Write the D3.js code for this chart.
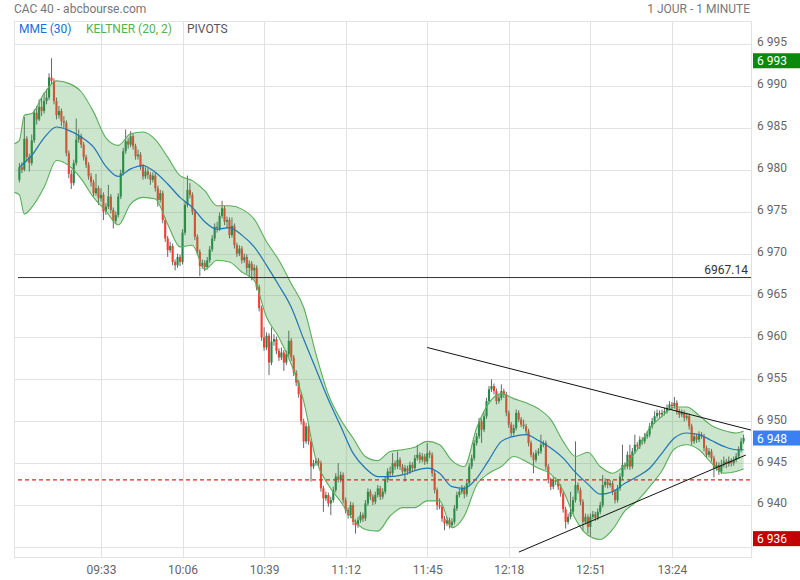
<!DOCTYPE html>
<html><head><meta charset="utf-8">
<script src="https://cdn.jsdelivr.net/npm/d3@7"></script>
<style>body{margin:0;background:#fff}svg{display:block;font-family:Roboto,"Noto Sans",sans-serif}</style>
</head><body><svg id="c" width="800" height="580"></svg>
<script>
const title = "CAC 40 - abcbourse.com";
const period = "1 JOUR - 1 MINUTE";
const legendLabels = ["MME (30)", "KELTNER (20, 2)", "PIVOTS"];
const timeLabels = ["09:33","10:06","10:39","11:12","11:45","12:18","12:51","13:24"];
const priceTicks = [6935,6940,6945,6950,6955,6960,6965,6970,6975,6980,6985,6990,6995];

const closes = [
6980.3,6980.0,6983.7,6981.5,6980.8,6983.5,6986.8,6986.0,6987.5,6987.0,
6988.2,6988.6,6991.0,6990.6,6988.2,6986.5,6987.0,6985.8,6985.6,6982.0,
6979.5,6978.4,6980.8,6983.6,6984.0,6983.0,6981.5,6980.6,6979.2,6978.5,
6977.2,6977.8,6976.6,6977.0,6975.0,6975.6,6976.8,6975.2,6973.9,6974.6,
6976.8,6979.6,6982.2,6983.4,6983.0,6984.0,6982.8,6981.6,6981.8,6980.4,
6979.2,6979.8,6979.4,6978.8,6979.3,6977.8,6976.4,6977.2,6974.0,6971.8,
6970.4,6970.9,6969.0,6968.6,6969.6,6969.0,6972.5,6975.8,6977.6,6977.0,
6975.0,6972.0,6970.2,6968.5,6968.9,6968.4,6969.2,6970.5,6971.8,6973.2,
6973.0,6974.5,6975.4,6973.8,6974.0,6972.2,6973.3,6971.0,6970.0,6970.6,
6969.2,6969.6,6968.3,6968.8,6968.0,6968.3,6966.0,6963.5,6960.0,6958.8,
6960.2,6957.0,6959.5,6959.8,6958.4,6957.6,6958.2,6957.0,6958.0,6959.6,
6957.6,6955.8,6954.6,6953.2,6950.0,6947.6,6949.4,6947.6,6944.6,6945.0,
6945.3,6945.0,6942.0,6940.8,6941.2,6940.2,6940.6,6941.8,6943.4,6943.0,
6943.6,6940.6,6939.4,6938.8,6940.0,6938.0,6937.6,6938.2,6938.8,6938.4,
6940.2,6941.6,6941.0,6940.4,6941.2,6942.0,6941.0,6941.6,6943.0,6944.0,
6943.8,6945.0,6944.6,6945.4,6944.6,6944.0,6944.4,6944.0,6944.8,6944.4,
6945.6,6946.0,6945.4,6945.8,6945.2,6946.2,6946.0,6943.8,6941.8,6940.0,
6939.8,6938.4,6937.8,6938.2,6937.6,6938.0,6939.6,6941.2,6941.6,6942.0,
6941.3,6942.6,6944.6,6945.6,6947.4,6948.2,6950.0,6949.0,6950.6,6952.4,
6953.8,6954.2,6953.6,6952.4,6952.8,6953.6,6953.2,6951.0,6949.6,6948.6,
6949.2,6951.0,6950.2,6949.6,6949.4,6948.8,6947.4,6946.0,6945.4,6946.2,
6946.4,6947.2,6947.4,6944.6,6943.0,6942.2,6943.0,6942.8,6942.2,6941.4,
6939.5,6938.0,6938.6,6939.2,6940.6,6942.4,6941.8,6940.4,6938.0,6938.6,
6937.4,6938.6,6938.9,6938.5,6939.2,6940.0,6942.4,6942.8,6942.4,6942.6,
6941.6,6940.6,6942.0,6943.4,6944.8,6944.6,6946.0,6944.6,6946.4,6947.2,
6947.0,6947.8,6947.6,6948.2,6948.4,6949.4,6950.0,6950.6,6951.0,6950.8,
6951.0,6951.2,6951.6,6952.0,6951.8,6952.2,6951.2,6950.8,6951.0,6950.4,
6950.6,6949.4,6947.6,6948.2,6947.8,6948.4,6948.2,6946.8,6946.0,6946.4,
6945.6,6944.4,6944.8,6944.0,6944.8,6945.2,6944.9,6945.3,6945.0,6945.4,
6945.8,6946.6,6947.6,6948.0];

const opens = [
6978.8,6980.3,6980.0,6983.7,6981.5,6980.8,6983.5,6986.8,6986.0,6987.5,
6987.0,6988.2,6988.6,6991.0,6990.6,6988.2,6986.5,6987.0,6985.8,6985.6,
6982.0,6979.5,6978.4,6980.8,6983.6,6984.0,6983.0,6981.5,6980.6,6979.2,
6978.5,6977.2,6977.8,6976.6,6977.0,6975.0,6975.6,6976.8,6975.2,6973.9,
6974.6,6976.8,6979.6,6982.2,6983.4,6983.0,6984.0,6982.8,6981.6,6981.8,
6980.4,6979.2,6979.8,6979.4,6978.8,6979.3,6977.8,6976.4,6977.2,6974.0,
6971.8,6970.4,6970.9,6969.0,6968.6,6969.6,6969.0,6972.5,6975.8,6977.6,
6977.0,6975.0,6972.0,6970.2,6968.5,6968.9,6968.4,6969.2,6970.5,6971.8,
6973.2,6973.0,6974.5,6975.4,6973.8,6974.0,6972.2,6973.3,6971.0,6970.0,
6970.6,6969.2,6969.6,6968.3,6968.8,6968.0,6968.3,6966.0,6963.5,6960.0,
6958.8,6960.2,6957.0,6959.5,6959.8,6958.4,6957.6,6958.2,6957.0,6958.0,
6959.6,6957.6,6955.8,6954.6,6953.2,6950.0,6947.6,6949.4,6947.6,6944.6,
6945.0,6945.3,6945.0,6942.0,6940.8,6941.2,6940.2,6940.6,6941.8,6943.4,
6943.0,6943.6,6940.6,6939.4,6938.8,6940.0,6938.0,6937.6,6938.2,6938.8,
6938.4,6940.2,6941.6,6941.0,6940.4,6941.2,6942.0,6941.0,6941.6,6943.0,
6944.0,6943.8,6945.0,6944.6,6945.4,6944.6,6944.0,6944.4,6944.0,6944.8,
6944.4,6945.6,6946.0,6945.4,6945.8,6945.2,6946.2,6946.0,6943.8,6941.8,
6940.0,6939.8,6938.4,6937.8,6938.2,6937.6,6938.0,6939.6,6941.2,6941.6,
6942.0,6941.3,6942.6,6944.6,6945.6,6947.4,6948.2,6950.0,6949.0,6950.6,
6952.4,6953.8,6954.2,6953.6,6952.4,6952.8,6953.6,6953.2,6951.0,6949.6,
6948.6,6949.2,6951.0,6950.2,6949.6,6949.4,6948.8,6947.4,6946.0,6945.4,
6946.2,6946.4,6947.2,6947.4,6944.6,6943.0,6942.2,6943.0,6942.8,6942.2,
6941.4,6939.5,6938.0,6938.6,6939.2,6940.6,6942.4,6941.8,6940.4,6938.0,
6938.6,6937.4,6938.6,6938.9,6938.5,6939.2,6940.0,6942.4,6942.8,6942.4,
6942.6,6941.6,6940.6,6942.0,6943.4,6944.8,6944.6,6946.0,6944.6,6946.4,
6947.2,6947.0,6947.8,6947.6,6948.2,6948.4,6949.4,6950.0,6950.6,6951.0,
6950.8,6951.0,6951.2,6951.6,6952.0,6951.8,6952.2,6951.2,6950.8,6951.0,
6950.4,6950.6,6949.4,6947.6,6948.2,6947.8,6948.4,6948.2,6946.8,6946.0,
6946.4,6945.6,6944.4,6944.8,6944.0,6944.8,6945.2,6944.9,6945.3,6945.0,
6945.4,6945.8,6946.6,6947.6];

const highs = [
6980.8,6980.9,6986.3,6984.0,6981.9,6984.2,6987.2,6987.6,6988.4,6988.6,
6989.2,6989.6,6991.5,6993.3,6990.9,6988.6,6987.6,6987.3,6986.4,6985.9,
6982.3,6980.0,6981.2,6986.1,6984.8,6984.3,6983.3,6981.8,6980.9,6979.6,
6978.8,6979.5,6978.1,6977.8,6977.3,6976.0,6978.2,6977.1,6975.5,6975.0,
6977.2,6980.0,6982.6,6984.8,6983.8,6984.6,6984.3,6983.1,6982.4,6982.1,
6980.7,6980.3,6980.2,6979.7,6979.7,6979.6,6978.1,6977.6,6977.5,6974.3,
6972.1,6971.4,6971.2,6969.3,6970.0,6969.9,6972.9,6976.2,6979.3,6978.4,
6977.3,6975.3,6972.3,6970.5,6969.3,6969.2,6969.6,6970.9,6972.2,6973.6,
6973.8,6974.9,6976.3,6975.7,6974.4,6974.3,6974.3,6973.6,6971.3,6971.0,
6970.9,6970.0,6969.9,6969.2,6969.1,6968.7,6968.6,6966.3,6963.8,6961.2,
6960.6,6960.5,6961.2,6960.4,6960.1,6958.7,6958.8,6958.5,6958.4,6960.8,
6959.9,6957.9,6956.1,6954.9,6953.5,6950.3,6949.8,6949.7,6947.9,6945.4,
6945.6,6945.6,6945.3,6942.3,6941.6,6941.5,6941.0,6942.2,6943.8,6945.0,
6944.0,6943.9,6940.9,6939.7,6940.4,6940.3,6938.3,6938.6,6939.2,6939.1,
6940.6,6942.0,6941.9,6941.3,6941.6,6942.4,6942.3,6942.0,6943.4,6944.4,
6944.6,6946.2,6945.3,6946.4,6945.7,6944.9,6944.8,6944.7,6945.2,6945.1,
6946.0,6947.2,6946.3,6946.2,6946.1,6947.4,6946.5,6946.3,6944.1,6942.1,
6940.8,6940.1,6938.7,6938.6,6938.5,6938.4,6940.0,6941.6,6942.0,6942.4,
6942.3,6943.0,6945.0,6946.0,6947.8,6948.6,6950.4,6950.3,6951.0,6952.8,
6954.2,6955.0,6954.5,6953.9,6953.2,6954.4,6953.9,6953.5,6951.3,6949.9,
6949.6,6951.4,6951.3,6950.5,6950.2,6949.7,6949.1,6947.7,6946.3,6946.6,
6946.8,6948.4,6947.7,6947.7,6944.9,6943.3,6943.4,6943.3,6943.1,6942.5,
6941.7,6939.8,6939.0,6941.6,6941.0,6947.6,6942.7,6942.1,6940.7,6939.0,
6938.9,6939.0,6939.3,6939.2,6939.6,6940.4,6943.6,6943.2,6943.1,6943.0,
6942.9,6941.9,6942.4,6943.8,6947.2,6945.1,6946.4,6947.2,6946.8,6948.4,
6947.5,6948.2,6948.1,6948.6,6948.8,6949.8,6950.4,6951.2,6951.4,6951.3,
6951.4,6951.6,6952.0,6952.4,6952.3,6952.9,6952.5,6951.5,6951.4,6951.3,
6951.0,6950.9,6949.7,6948.6,6948.5,6948.8,6948.7,6948.5,6947.1,6946.8,
6946.7,6945.9,6945.2,6945.1,6945.4,6945.8,6945.5,6945.8,6945.6,6945.8,
6946.2,6947.0,6948.0,6948.4];

const lows = [
6978.5,6979.6,6979.8,6981.0,6979.8,6980.5,6983.2,6985.4,6985.8,6986.4,
6986.7,6987.8,6988.3,6990.2,6987.8,6986.0,6986.1,6985.2,6985.0,6981.6,
6979.0,6977.7,6978.1,6980.5,6983.2,6982.6,6981.1,6980.2,6978.8,6978.0,
6976.8,6976.9,6975.8,6976.2,6974.0,6974.6,6975.3,6974.8,6973.0,6973.5,
6974.3,6976.5,6979.3,6981.9,6982.5,6982.7,6982.4,6981.2,6981.2,6980.0,
6978.8,6978.9,6978.9,6978.2,6978.5,6977.4,6975.6,6976.1,6973.6,6971.4,
6969.6,6970.1,6968.6,6968.0,6968.3,6968.5,6968.7,6972.2,6975.5,6976.6,
6974.6,6971.6,6969.8,6967.3,6968.2,6967.9,6968.1,6968.9,6970.2,6971.5,
6972.5,6972.7,6974.2,6973.4,6973.0,6971.8,6971.9,6970.6,6969.6,6969.7,
6968.8,6968.9,6967.6,6967.2,6966.8,6967.0,6965.6,6963.1,6959.6,6958.4,
6958.5,6955.5,6956.7,6959.0,6958.0,6957.2,6957.3,6956.0,6956.7,6957.7,
6957.2,6955.4,6954.2,6952.8,6949.6,6946.8,6947.3,6947.2,6942.8,6944.3,
6944.7,6944.6,6941.6,6939.2,6940.5,6939.8,6938.8,6940.3,6941.5,6942.7,
6942.7,6940.2,6939.0,6938.4,6938.5,6937.6,6936.6,6937.3,6937.9,6938.0,
6938.1,6939.9,6940.6,6940.0,6940.1,6940.9,6940.6,6940.7,6941.3,6942.7,
6943.4,6943.5,6944.2,6944.3,6944.2,6943.6,6942.8,6943.6,6943.7,6944.0,
6944.1,6945.3,6945.0,6945.1,6944.8,6944.9,6945.6,6943.4,6941.4,6939.4,
6939.5,6938.0,6937.0,6937.5,6937.2,6937.3,6937.7,6939.3,6940.9,6941.3,
6940.8,6941.0,6942.3,6944.3,6945.3,6947.1,6947.9,6947.4,6948.7,6950.3,
6952.1,6953.5,6953.2,6952.0,6952.1,6952.5,6952.8,6950.6,6949.2,6948.2,
6948.3,6948.9,6949.9,6949.3,6949.1,6948.5,6947.0,6945.7,6943.8,6945.1,
6945.9,6946.1,6946.9,6944.2,6942.6,6941.8,6941.9,6942.4,6941.8,6941.0,
6939.1,6937.2,6937.7,6938.3,6938.9,6940.3,6941.4,6940.0,6936.9,6937.7,
6936.6,6936.2,6938.3,6938.1,6938.2,6938.9,6939.7,6942.1,6942.0,6942.1,
6941.2,6940.2,6940.3,6941.7,6943.1,6944.2,6944.3,6944.2,6944.3,6946.1,
6946.6,6946.7,6947.2,6947.3,6947.9,6948.1,6949.1,6949.7,6950.3,6950.4,
6950.5,6950.7,6950.9,6951.3,6951.4,6951.5,6950.8,6950.4,6950.5,6950.0,
6950.1,6949.0,6947.2,6947.3,6947.4,6947.5,6947.9,6946.4,6945.6,6945.7,
6945.2,6943.3,6944.1,6943.6,6943.7,6944.5,6944.4,6944.6,6944.6,6944.7,
6945.1,6945.5,6946.3,6947.3];

// Keltner (20, 2) band, read every 5 minutes
const bandIdx = [-2,0,2,5,10,15,20,25,30,35,40,45,50,55,60,65,70,75,80,85,90,95,100,105,110,115,120,125,130,135,140,145,150,155,160,165,170,175,180,185,190,195,200,205,210,215,220,225,230,235,240,245,250,255,260,265,270,275,280,285,290,293];
const bandUpper = [6983.1,6983.5,6986.5,6986.7,6989.1,6990.6,6990.3,6989.3,6986.9,6983.8,6982.9,6984.3,6984.5,6983.6,6981.5,6979.3,6978.7,6977.5,6975.7,6975.7,6975.3,6974.1,6971.4,6969.2,6966.4,6963.6,6958.0,6953.2,6950.2,6948.0,6945.8,6945.3,6946.4,6946.6,6946.9,6947.6,6947.2,6945.3,6944.6,6949.2,6952.2,6953.3,6952.7,6952.2,6951.5,6950.2,6947.6,6945.8,6946.3,6944.6,6943.8,6944.8,6946.6,6949.2,6950.6,6951.7,6951.7,6950.7,6949.5,6948.9,6948.6,6948.8];
const bandLower = [6977.3,6977.0,6974.7,6975.5,6977.9,6981.1,6980.5,6978.9,6976.7,6975.1,6973.4,6975.9,6976.7,6976.5,6973.5,6970.8,6971.0,6968.1,6969.2,6969.0,6967.8,6966.8,6962.4,6960.0,6956.8,6952.4,6945.4,6942.4,6940.4,6938.3,6937.1,6936.9,6938.7,6939.7,6939.7,6940.5,6940.5,6937.3,6938.7,6942.4,6943.8,6944.6,6945.8,6945.2,6944.4,6943.7,6941.7,6938.3,6936.4,6935.9,6937.1,6939.3,6940.5,6942.2,6944.1,6946.7,6947.2,6946.6,6945.0,6943.8,6944.0,6944.3];

// MME (30), read every 5 minutes
const emaIdx = [0,5,10,15,20,25,30,35,40,45,50,55,60,65,70,75,80,85,90,95,100,105,110,115,120,125,130,135,140,145,150,155,160,165,170,175,180,185,190,195,200,205,210,215,220,225,230,235,240,245,250,255,260,265,270,275,280,285,290,293];
const emaValues = [6980.3,6981.7,6983.8,6985.1,6984.7,6983.9,6982.7,6980.4,6979.2,6980.1,6980.5,6979.7,6978.3,6976.7,6975.5,6973.8,6972.9,6973.1,6972.2,6970.8,6968.6,6966.2,6963.6,6959.8,6956.2,6952.6,6949.4,6946.2,6944.4,6943.4,6943.4,6943.6,6944.1,6944.4,6943.8,6942.2,6942.0,6943.2,6945.4,6947.6,6948.2,6948.4,6947.7,6946.8,6945.6,6943.9,6942.5,6941.3,6941.6,6942.6,6943.4,6944.4,6946.2,6948.0,6948.6,6948.4,6947.7,6947.0,6946.6,6946.6];

const pivotValue = 6967.14;
const refValue = 6943.0;
const trendUpper = [[165, 6958.8], [296, 6948.95]];
const trendLower = [[202.1, 6934.4], [293.9, 6945.97]];
const markerValues = [6993, 6948, 6936];
const markerColors = ["#0a8a0a", "#3a80f2", "#c20000"];

const L = 14, R = 751, T = 21, B = 557;
const svg = d3.select("#c");
const x = d3.scaleLinear().domain([-2.18, 296]).range([L, R]);
const y = d3.scaleLinear().domain([6933.81, 6997.74]).range([B, T]);
const loc = d3.formatLocale({decimal: ".", thousands: " ", grouping: [3], currency: ["", ""]});
const fmt = loc.format(",d");
const tickIdx = timeLabels.map(s => { const [h, m] = s.split(":").map(Number); return h * 60 + m - 540; });

// grid
const grid = svg.append("g").attr("stroke", "#e2e2e2").attr("stroke-width", 1).attr("shape-rendering", "crispEdges");
priceTicks.forEach(v => grid.append("line").attr("x1", L).attr("x2", R).attr("y1", Math.round(y(v)) + 0.5).attr("y2", Math.round(y(v)) + 0.5));
tickIdx.forEach(t => grid.append("line").attr("x1", Math.round(x(t)) + 0.5).attr("x2", Math.round(x(t)) + 0.5).attr("y1", T).attr("y2", B));
grid.append("rect").attr("x", L + 0.5).attr("y", T + 0.5).attr("width", R - L).attr("height", B - T).attr("fill", "none");

svg.append("defs").append("clipPath").attr("id", "clip").append("rect").attr("x", L).attr("y", T).attr("width", R - L).attr("height", B - T);
const plot = svg.append("g").attr("clip-path", "url(#clip)");

// candles
const idx = d3.range(closes.length);
const cg = plot.append("g");
cg.selectAll("line.w").data(idx).join("line")
  .attr("x1", i => x(i)).attr("x2", i => x(i))
  .attr("y1", i => y(highs[i])).attr("y2", i => y(lows[i]))
  .attr("stroke", "#555").attr("stroke-width", 0.9);
cg.selectAll("rect").data(idx).join("rect")
  .attr("x", i => x(i) - 1.05).attr("width", 2.1)
  .attr("y", i => y(Math.max(opens[i], closes[i])))
  .attr("height", i => Math.max(1, Math.abs(y(opens[i]) - y(closes[i]))))
  .attr("fill", i => closes[i] >= opens[i] ? "#1f8a4a" : "#ff3b30");

// Keltner band
const bandData = bandIdx.map((d, k) => ({i: d, u: bandUpper[k], l: bandLower[k]}));
plot.append("path").datum(bandData)
  .attr("d", d3.area().x(d => x(d.i)).y0(d => y(d.l)).y1(d => y(d.u)).curve(d3.curveMonotoneX))
  .attr("fill", "#43a047").attr("fill-opacity", 0.27);
[["u"], ["l"]].forEach(([k]) => plot.append("path").datum(bandData)
  .attr("d", d3.line().x(d => x(d.i)).y(d => y(d[k])).curve(d3.curveMonotoneX))
  .attr("fill", "none").attr("stroke", "#5aae5a").attr("stroke-width", 1.1));

// EMA
plot.append("path").datum(emaIdx.map((d, k) => [d, emaValues[k]]))
  .attr("d", d3.line().x(d => x(d[0])).y(d => y(d[1])).curve(d3.curveMonotoneX))
  .attr("fill", "none").attr("stroke", "#1f74b6").attr("stroke-width", 1.2);

// pivots
plot.append("line").attr("x1", L + 4).attr("x2", R).attr("y1", y(pivotValue)).attr("y2", y(pivotValue))
  .attr("stroke", "#333").attr("stroke-width", 1);
svg.append("text").attr("x", R - 3).attr("y", y(pivotValue) - 4).attr("text-anchor", "end")
  .attr("font-size", 12).attr("fill", "#333").text(pivotValue.toFixed(2));
plot.append("line").attr("x1", L + 4).attr("x2", R).attr("y1", y(refValue)).attr("y2", y(refValue))
  .attr("stroke", "#e8231a").attr("stroke-width", 1.2).attr("stroke-dasharray", "4,3");

// trend lines
[trendUpper, trendLower].forEach(t => plot.append("line")
  .attr("x1", x(t[0][0])).attr("y1", y(t[0][1])).attr("x2", x(t[1][0])).attr("y2", y(t[1][1]))
  .attr("stroke", "#111").attr("stroke-width", 1));

// axes (labels hidden behind a value marker are left out, as in the original)
const labelTicks = priceTicks.filter(v => markerValues.every(m => Math.abs(y(m) - y(v)) > 12));
const ay = svg.append("g").attr("transform", `translate(${R},-2)`)
  .call(d3.axisRight(y).tickValues(labelTicks).tickSize(0).tickPadding(6).tickFormat(fmt));
ay.select(".domain").remove();
ay.selectAll("text").attr("fill", "#666").attr("font-size", 12).attr("font-family", "Roboto, sans-serif");
const ax = svg.append("g").attr("transform", `translate(0,${B})`)
  .call(d3.axisBottom(x).tickValues(tickIdx).tickSize(0).tickPadding(8).tickFormat((d, k) => timeLabels[k]));
ax.select(".domain").remove();
ax.selectAll("text").attr("fill", "#666").attr("font-size", 12).attr("font-family", "Roboto, sans-serif");

// value markers
markerValues.forEach((v, k) => {
  svg.append("rect").attr("x", 753).attr("y", y(v) - 7.5).attr("width", 47).attr("height", 15).attr("fill", markerColors[k]);
  svg.append("text").attr("x", 757).attr("y", y(v) + 4.5).attr("fill", "#fff").attr("font-size", 12).text(fmt(v));
});

// header
svg.append("text").attr("x", 14).attr("y", 12.5).attr("font-size", 12).attr("fill", "#777").text(title);
svg.append("text").attr("x", 750).attr("y", 12.5).attr("font-size", 12).attr("fill", "#777").attr("text-anchor", "end").text(period);
const legendX = [19, 86, 187], legendColors = ["#1a6fd6", "#55b055", "#555"];
legendLabels.forEach((s, k) => svg.append("text").attr("x", legendX[k]).attr("y", 32.5)
  .attr("font-size", 12).attr("fill", legendColors[k]).text(s));
</script></body></html>
